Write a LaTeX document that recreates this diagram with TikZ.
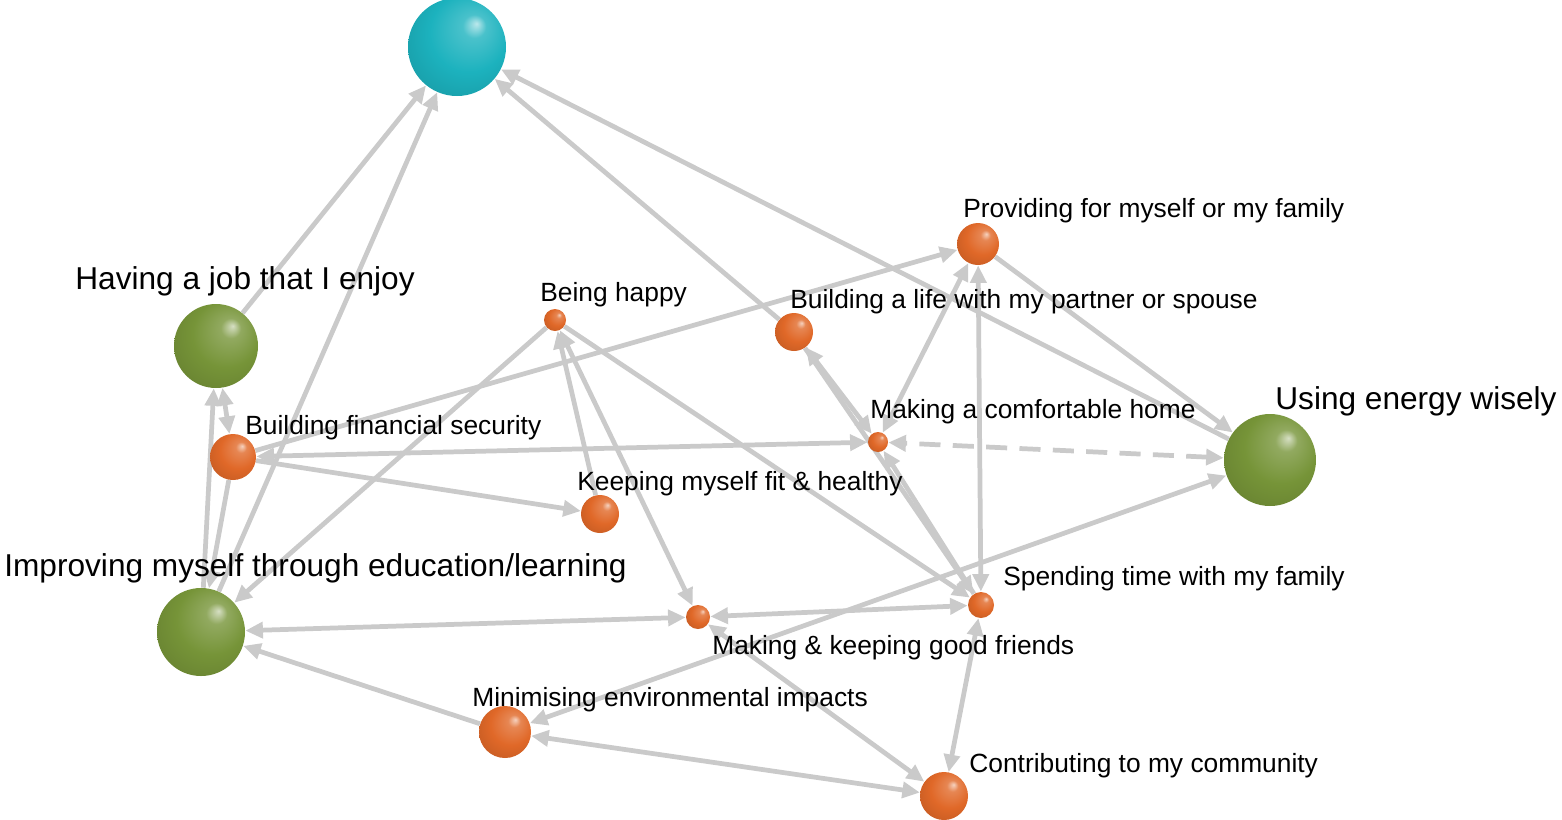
\documentclass[tikz,border=0pt]{standalone}
\usepackage{fontspec}
\setmainfont{Liberation Sans}
\usetikzlibrary{arrows.meta}

\definecolor{ctop}{RGB}{28,178,190}
\definecolor{cgreen}{RGB}{118,148,56}
\definecolor{corange}{RGB}{224,104,40}
\definecolor{linkgray}{RGB}{202,202,202}

% glossy spheres, light from the upper right
\newcommand\orbshading[2]{%
  \pgfdeclareradialshading{#1}{\pgfqpoint{10bp}{12bp}}{%
    color(0bp)=(#2!30!white); color(6bp)=(#2!80!white);
    color(20bp)=(#2); color(38bp)=(#2!85!black); color(50bp)=(#2!60!black)}}
\orbshading{tealorb}{ctop}
\orbshading{greenorb}{cgreen}
\orbshading{orangeorb}{corange}

\pgfdeclarelayer{background}
\pgfsetlayers{background,main}

\tikzset{
  orb/.style={circle, inner sep=0pt, minimum size=#1*0.02cm},
  topball/.style={orb=#1, shading=tealorb},
  greenball/.style={orb=#1, shading=greenorb},
  orangeball/.style={orb=#1, shading=orangeorb},
  lab/.style={anchor=base west, inner sep=0pt, font=\fontsize{15}{18}\selectfont},
  biglab/.style={anchor=base west, inner sep=0pt, font=\fontsize{18}{22}\selectfont},
  link/.style={draw=linkgray, line width=2.7pt}
}

\begin{document}
\begin{tikzpicture}[x=0.02cm, y=-0.02cm, >={Triangle[length=10pt,width=9pt]}]
  \useasboundingbox (0,0) rectangle (1562,819);

  \node[topball=98] (top) at (457,47) {};
  \node[greenball=84] (job) at (216,346) {};
  \node[greenball=88] (edu) at (201,632) {};
  \node[greenball=92] (energy) at (1270,460) {};
  \node[orangeball=46] (fin) at (233,457) {};
  \node[orangeball=22] (happy) at (555,320) {};
  \node[orangeball=38] (fit) at (600,514) {};
  \node[orangeball=38] (partner) at (794,332) {};
  \node[orangeball=42] (provide) at (978,244) {};
  \node[orangeball=20] (home) at (878,442) {};
  \node[orangeball=26] (family) at (981,605) {};
  \node[orangeball=24] (friends) at (698,617) {};
  \node[orangeball=52] (env) at (505,732) {};
  \node[orangeball=48] (comm) at (944,796) {};

  \node[biglab] (ljob) at (75,289) {Having a job that I enjoy};
  \node[biglab] (ledu) at (4,576) {Improving myself through education/learning};
  \node[biglab] (lenergy) at (1275,409) {Using energy wisely};
  \node[lab] (lfin) at (245,434) {Building financial security};
  \node[lab] (lhappy) at (540,301) {Being happy};
  \node[lab] (lfit) at (577,490) {Keeping myself fit \& healthy};
  \node[lab] (lpartner) at (790,308) {Building a life with my partner or spouse};
  \node[lab] (lprovide) at (963,217) {Providing for myself or my family};
  \node[lab] (lhome) at (870,418) {Making a comfortable home};
  \node[lab] (lfamily) at (1003,585) {Spending time with my family};
  \node[lab] (lfriends) at (712,654) {Making \& keeping good friends};
  \node[lab] (lenv) at (472,706) {Minimising environmental impacts};
  \node[lab] (lcomm) at (969,772) {Contributing to my community};

  \begin{pgfonlayer}{background}
    \draw[link,->] (job) -- (top);
    \draw[link,->] (edu) -- (top);
    \draw[link,->] (partner) -- (top);
    \draw[link,->] (energy) -- (top);
    \draw[link,<->] (job) -- (fin);
    \draw[link,->] (edu) -- (job);
    \draw[link,->] (fin) -- (edu);
    \draw[link,->] (happy) -- (edu);
    \draw[link,->] (fin) -- (provide);
    \draw[link,<->] (home) -- (fin);
    \draw[link,->] (fin) -- (fit);
    \draw[link,->] (fit) -- (happy);
    \draw[link,<->] (happy) -- (friends);
    \draw[link,->] (happy) -- (family);
    \draw[link,<->] (partner) -- (home);
    \draw[link,<->] (home) -- (provide);
    \draw[link,<->,dash pattern=on 12pt off 7pt] (energy) -- (home);
    \draw[link,->] (provide) -- (energy);
    \draw[link,<->] (provide) -- (family);
    \draw[link,->] (partner) -- (family);
    \draw[link,->] (family) -- (home);
    \draw[link,<->] (friends) -- (family);
    \draw[link,<->] (edu) -- (friends);
    \draw[link,->] (env) -- (edu);
    \draw[link,<->] (friends) -- (comm);
    \draw[link,<->] (family) -- (comm);
    \draw[link,<->] (env) -- (energy);
    \draw[link,<->] (env) -- (comm);
  \end{pgfonlayer}
\end{tikzpicture}
\end{document}
